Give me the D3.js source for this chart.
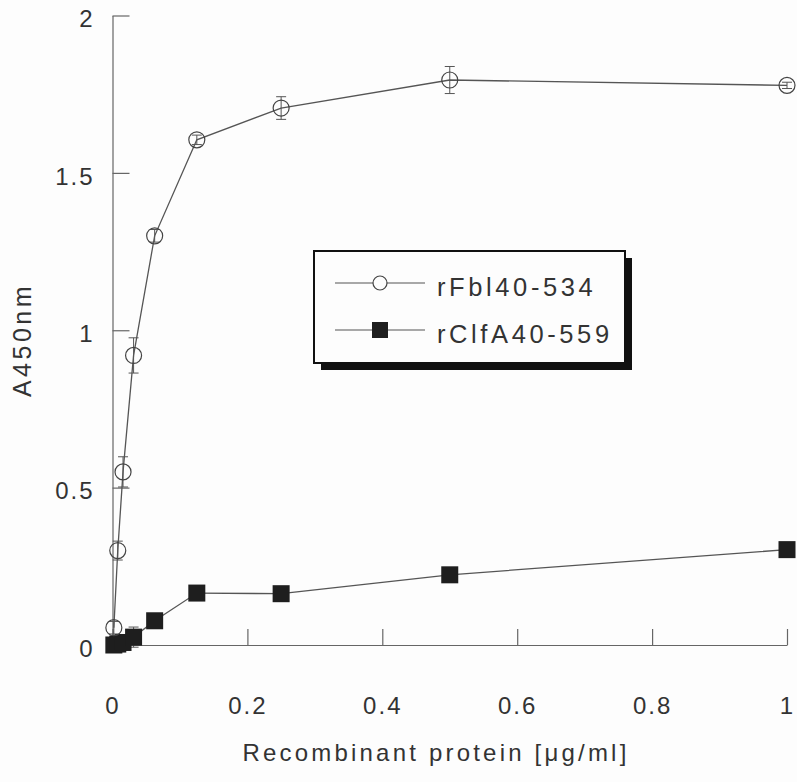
<!DOCTYPE html>
<html>
<head>
<meta charset="utf-8">
<script src="https://cdn.jsdelivr.net/npm/d3@7"></script>
<style>
  body { margin: 0; background: #fdfdfd; }
  svg { display: block; font-family: "Liberation Sans", Arial, sans-serif; }
</style>
</head>
<body>
<div id="chart"></div>
<script>
// concentrations in ug/ml (two-fold dilutions)
var concentrations = [0.002, 0.0078, 0.0156, 0.03125, 0.0625, 0.125, 0.25, 0.5, 1];
var fblValues = [0.055, 0.3, 0.55, 0.92, 1.3, 1.605, 1.706, 1.795, 1.778];
var fblErrors = [0.02, 0.03, 0.048, 0.056, 0.02, 0.015, 0.036, 0.043, 0.01];
var clfValues = [0.0, 0.003, 0.008, 0.025, 0.077, 0.165, 0.163, 0.223, 0.303];
var clfErrors = [0, 0, 0.01, 0.032, 0, 0, 0, 0, 0];
var seriesNames = ["rFbl40-534", "rClfA40-559"];
var xTicks = [0, 0.2, 0.4, 0.6, 0.8, 1];
var yTicks = [0, 0.5, 1, 1.5, 2];

var W = 797, H = 782;
var svg = d3.select("#chart").append("svg").attr("width", W).attr("height", H);

var x = d3.scaleLinear().domain([0, 1]).range([112.5, 787]);
var y = d3.scaleLinear().domain([0, 2]).range([645, 15.5]);

var ink = "#333", lineCol = "#555";

// axes
var xAxis = d3.axisBottom(x).tickValues(xTicks).tickFormat(d3.format("~g"))
  .tickSizeInner(-16).tickSizeOuter(0).tickPadding(52);
var gx = svg.append("g").attr("transform", "translate(0," + y(0) + ")").call(xAxis);

var yAxis = d3.axisLeft(y).tickValues(yTicks).tickFormat(d3.format("~g"))
  .tickSizeInner(-17).tickSizeOuter(0).tickPadding(18);
var gy = svg.append("g").attr("transform", "translate(" + x(0) + ",0)").call(yAxis);

[gx, gy].forEach(function(g) {
  g.select(".domain").attr("stroke", "#666").attr("stroke-width", 1.2);
  g.selectAll(".tick line").attr("stroke", "#666").attr("stroke-width", 1.2);
  g.selectAll(".tick text").attr("fill", ink).style("font-size", "24px")
    .style("font-family", "'Liberation Sans', Arial, sans-serif")
    .style("letter-spacing", "2px");
});
gy.selectAll(".tick text").attr("dy", "0.47em");

// axis titles
svg.append("text")
  .attr("x", 436).attr("y", 761)
  .attr("text-anchor", "middle")
  .attr("fill", ink).style("font-size", "24px").style("letter-spacing", "3.2px")
  .text("Recombinant protein [μg/ml]");

svg.append("text")
  .attr("transform", "translate(31,340) rotate(-90)")
  .attr("text-anchor", "middle")
  .attr("fill", ink).style("font-size", "25px").style("letter-spacing", "3.5px")
  .text("A450nm");

// series
var fbl = concentrations.map(function(c, i) { return {x: c, y: fblValues[i], e: fblErrors[i]}; });
var clf = concentrations.map(function(c, i) { return {x: c, y: clfValues[i], e: clfErrors[i]}; });

var line = d3.line().x(function(d) { return x(d.x); }).y(function(d) { return y(d.y); });

function errorBars(data, cls) {
  var g = svg.append("g").attr("class", cls).attr("stroke", "#555").attr("stroke-width", 1);
  data.filter(function(d) { return d.e > 0; }).forEach(function(d) {
    var cx = x(d.x);
    g.append("line").attr("x1", cx).attr("x2", cx).attr("y1", y(d.y - d.e)).attr("y2", y(d.y + d.e));
    g.append("line").attr("x1", cx - 5).attr("x2", cx + 5).attr("y1", y(d.y + d.e)).attr("y2", y(d.y + d.e));
    g.append("line").attr("x1", cx - 5).attr("x2", cx + 5).attr("y1", y(d.y - d.e)).attr("y2", y(d.y - d.e));
  });
}

svg.append("path").datum(clf).attr("d", line)
  .attr("fill", "none").attr("stroke", lineCol).attr("stroke-width", 1.3);
errorBars(clf, "err-clf");
svg.append("g").selectAll("rect").data(clf).enter().append("rect")
  .attr("x", function(d) { return x(d.x) - 8.5; })
  .attr("y", function(d) { return y(d.y) - 8.5; })
  .attr("width", 17).attr("height", 17)
  .attr("fill", "#1e1e1e");

svg.append("path").datum(fbl).attr("d", line)
  .attr("fill", "none").attr("stroke", lineCol).attr("stroke-width", 1.3);
errorBars(fbl, "err-fbl");
svg.append("g").selectAll("circle").data(fbl).enter().append("circle")
  .attr("cx", function(d) { return x(d.x); })
  .attr("cy", function(d) { return y(d.y); })
  .attr("r", 8)
  .attr("fill", "none").attr("stroke", "#444").attr("stroke-width", 1.2);

// legend
var lg = svg.append("g").attr("class", "legend");
lg.append("rect").attr("x", 321).attr("y", 258).attr("width", 311).attr("height", 112).attr("fill", "#111");
lg.append("rect").attr("x", 314).attr("y", 251).attr("width", 311).attr("height", 112)
  .attr("fill", "#fdfdfd").attr("stroke", "#111").attr("stroke-width", 2);

var rows = [283, 330];
seriesNames.forEach(function(name, i) {
  var ry = rows[i];
  lg.append("line").attr("x1", 335).attr("x2", 425).attr("y1", ry).attr("y2", ry)
    .attr("stroke", lineCol).attr("stroke-width", 1.2);
  if (i === 0) {
    lg.append("circle").attr("cx", 380).attr("cy", ry).attr("r", 7)
      .attr("fill", "#fdfdfd").attr("stroke", "#444").attr("stroke-width", 1.2);
  } else {
    lg.append("rect").attr("x", 372).attr("y", ry - 8).attr("width", 16).attr("height", 16).attr("fill", "#1e1e1e");
  }
  lg.append("text").attr("x", 437).attr("y", ry + 13)
    .attr("fill", ink).style("font-size", "25.5px").style("letter-spacing", "3.6px")
    .text(name);
});
</script>
</body>
</html>
